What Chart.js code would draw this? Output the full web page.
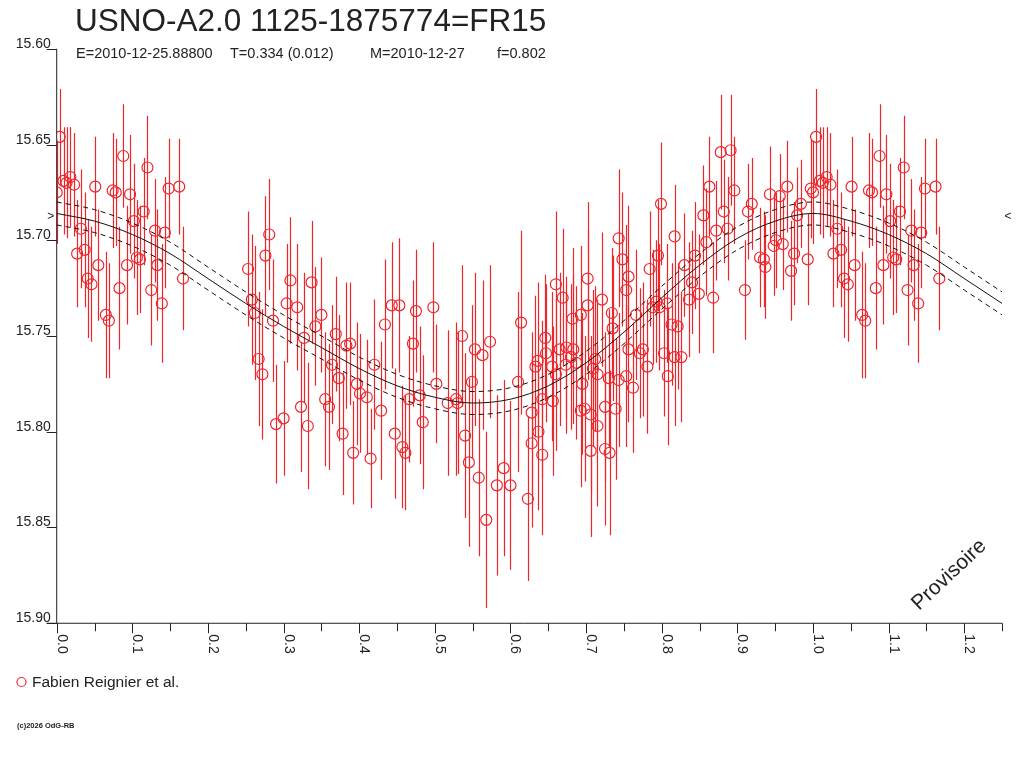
<!DOCTYPE html>
<html>
<head>
<meta charset="utf-8">
<script src="https://cdn.jsdelivr.net/npm/chart.js@4.4.1/dist/chart.umd.min.js"></script>
<style>
  html, body { margin: 0; padding: 0; background: #fff; }
  canvas { display: block; }
</style>
</head>
<body>
<canvas id="lc" width="1024" height="768"></canvas>
<script>
// Light curve of USNO-A2.0 1125-1875774 (phase folded)

const titleText = "USNO-A2.0 1125-1875774=FR15";
const subParts = ["E=2010-12-25.88800", "T=0.334 (0.012)", "M=2010-12-27", "f=0.802"];
const seriesName = "Fabien Reignier et al.";

// measured points: phase, magnitude, error (half bar)
const phases = [
  0.004, 0.000, 0.009, 0.018, 0.013, 0.023, 0.051, 0.074, 0.078, 0.088, 0.120, 0.097, 0.148, 0.162, 0.115, 0.102, 0.130,
  0.143, 0.032, 0.037, 0.027, 0.055, 0.093, 0.106, 0.110, 0.133, 0.041, 0.046, 0.083, 0.125, 0.167, 0.139, 0.065, 0.069,
  0.281, 0.276, 0.253, 0.309, 0.337, 0.258, 0.304, 0.318, 0.350, 0.262, 0.286, 0.342, 0.327, 0.369, 0.383, 0.388, 0.267,
  0.272, 0.364, 0.373, 0.397, 0.420, 0.401, 0.410, 0.355, 0.360, 0.323, 0.290, 0.300, 0.332, 0.378, 0.392, 0.415, 0.429,
  0.434, 0.443, 0.453, 0.475, 0.498, 0.471, 0.502, 0.480, 0.466, 0.484, 0.447, 0.457, 0.461,
  0.536, 0.553, 0.563, 0.573, 0.614, 0.549, 0.610, 0.743, 0.748, 0.756, 0.753, 0.702, 0.660, 0.669, 0.721, 0.702, 0.682,
  0.693, 0.734, 0.735, 0.646, 0.647, 0.665, 0.674, 0.683, 0.680, 0.636, 0.633, 0.655, 0.673, 0.687, 0.712, 0.709, 0.695,
  0.715, 0.730, 0.743, 0.753, 0.756, 0.660,
  0.517, 0.528, 0.530, 0.642, 0.656, 0.628, 0.693, 0.698, 0.706, 0.725, 0.739, 0.715, 0.540, 0.637, 0.628, 0.642, 0.706,
  0.725, 0.731, 0.545, 0.591, 0.558, 0.582, 0.600, 0.623, 0.568,
  0.878, 0.891, 0.863, 0.896, 0.799, 0.882, 0.855, 0.919, 0.914, 0.943, 0.956, 0.966, 0.997, 0.984, 0.979, 0.817, 0.872,
  0.887, 0.859, 0.795, 0.830, 0.844, 0.784, 0.951, 0.948, 0.960, 0.975, 0.930, 0.935, 0.937, 0.993, 0.971,
  0.840, 0.849, 0.836, 0.868, 0.910, 0.793, 0.807, 0.797, 0.788, 0.766, 0.813, 0.821, 0.775, 0.771, 0.803, 0.817, 0.826,
  0.781, 0.808, 0.762
];
const mags = [
  15.646, 15.675, 15.669, 15.667, 15.670, 15.671, 15.672, 15.674, 15.675, 15.656, 15.662, 15.676, 15.673, 15.672, 15.685, 15.690, 15.695,
  15.696, 15.694, 15.705, 15.707, 15.713, 15.713, 15.709, 15.710, 15.713, 15.720, 15.723, 15.725, 15.726, 15.720, 15.733, 15.739, 15.742,
  15.697, 15.708, 15.715, 15.721, 15.722, 15.731, 15.733, 15.735, 15.739, 15.738, 15.742, 15.745, 15.751, 15.749, 15.755, 15.754, 15.762,
  15.770, 15.765, 15.772, 15.775, 15.765, 15.780, 15.782, 15.783, 15.787, 15.787, 15.796, 15.793, 15.797, 15.801, 15.811, 15.814, 15.789,
  15.744, 15.734, 15.734, 15.737, 15.735, 15.754, 15.775, 15.781, 15.783, 15.795, 15.801, 15.808, 15.811,
  15.750, 15.757, 15.760, 15.753, 15.743, 15.774, 15.774, 15.699, 15.710, 15.719, 15.726, 15.720, 15.723, 15.730, 15.731, 15.734, 15.741,
  15.739, 15.738, 15.746, 15.751, 15.759, 15.757, 15.756, 15.757, 15.761, 15.763, 15.766, 15.766, 15.765, 15.764, 15.762, 15.767, 15.775,
  15.770, 15.772, 15.773, 15.771, 15.757, 15.770,
  15.785, 15.783, 15.785, 15.783, 15.784, 15.790, 15.789, 15.788, 15.791, 15.787, 15.788, 15.797, 15.802, 15.800, 15.806, 15.812, 15.810,
  15.809, 15.811, 15.816, 15.819, 15.824, 15.828, 15.828, 15.835, 15.846,
  15.654, 15.653, 15.672, 15.674, 15.681, 15.685, 15.687, 15.681, 15.685, 15.676, 15.677, 15.672, 15.673, 15.681, 15.687, 15.698, 15.695,
  15.694, 15.701, 15.708, 15.713, 15.708, 15.715, 15.700, 15.703, 15.702, 15.707, 15.709, 15.710, 15.714, 15.710, 15.716,
  15.722, 15.728, 15.731, 15.730, 15.726, 15.732, 15.733, 15.735, 15.735, 15.739, 15.744, 15.745, 15.757, 15.759, 15.759, 15.761, 15.761,
  15.766, 15.771, 15.777
];
const errs = [
  0.025, 0.027, 0.028, 0.026, 0.029, 0.027, 0.026, 0.030, 0.028, 0.027, 0.027, 0.031, 0.026, 0.025, 0.028, 0.030, 0.027,
  0.029, 0.031, 0.030, 0.028, 0.029, 0.031, 0.030, 0.028, 0.029, 0.031, 0.030, 0.032, 0.029, 0.027, 0.031, 0.033, 0.030,
  0.029, 0.031, 0.030, 0.033, 0.032, 0.034, 0.031, 0.033, 0.030, 0.035, 0.032, 0.031, 0.034, 0.030, 0.033, 0.032, 0.035,
  0.034, 0.031, 0.033, 0.032, 0.034, 0.031, 0.030, 0.035, 0.033, 0.034, 0.031, 0.030, 0.033, 0.032, 0.027, 0.026, 0.036,
  0.034, 0.033, 0.035, 0.032, 0.034, 0.033, 0.031, 0.036, 0.033, 0.035, 0.034, 0.032, 0.030,
  0.037, 0.040, 0.039, 0.040, 0.048, 0.040, 0.047, 0.036, 0.035, 0.037, 0.034, 0.040, 0.038, 0.036, 0.035, 0.039, 0.037,
  0.036, 0.034, 0.038, 0.033, 0.036, 0.040, 0.037, 0.039, 0.038, 0.041, 0.037, 0.039, 0.036, 0.040, 0.038, 0.041, 0.037,
  0.039, 0.036, 0.035, 0.037, 0.038, 0.040,
  0.038, 0.040, 0.037, 0.041, 0.039, 0.042, 0.040, 0.038, 0.041, 0.039, 0.037, 0.042, 0.043, 0.041, 0.044, 0.042, 0.045,
  0.040, 0.043, 0.044, 0.046, 0.041, 0.047, 0.044, 0.043, 0.046,
  0.030, 0.029, 0.026, 0.028, 0.032, 0.027, 0.026, 0.024, 0.025, 0.025, 0.022, 0.024, 0.026, 0.023, 0.025, 0.027, 0.026,
  0.027, 0.028, 0.029, 0.027, 0.028, 0.030, 0.025, 0.026, 0.024, 0.027, 0.026, 0.025, 0.027, 0.024, 0.026,
  0.027, 0.031, 0.030, 0.029, 0.026, 0.032, 0.031, 0.033, 0.030, 0.034, 0.032, 0.033, 0.035, 0.034, 0.033, 0.036, 0.034,
  0.035, 0.036, 0.034
];

// fitted curve and its envelope
const curvePhase = [0.00, 0.05, 0.10, 0.15, 0.20, 0.25, 0.30, 0.35, 0.40, 0.45, 0.50, 0.55, 0.60,
  0.65, 0.70, 0.75, 0.80, 0.85, 0.90, 0.95, 1.00, 1.05, 1.10, 1.15, 1.20, 1.25];
const curveMid = [15.686, 15.690, 15.697, 15.707, 15.720, 15.733, 15.745, 15.756, 15.767, 15.776, 15.782, 15.785, 15.783,
  15.776, 15.764, 15.748, 15.730, 15.713, 15.699, 15.690, 15.686, 15.690, 15.697, 15.707, 15.720, 15.733];
const curveUpper = [15.680, 15.684, 15.691, 15.701, 15.714, 15.727, 15.739, 15.750, 15.761, 15.770, 15.776, 15.779, 15.777,
  15.770, 15.758, 15.742, 15.724, 15.707, 15.693, 15.684, 15.680, 15.684, 15.691, 15.701, 15.714, 15.727];
const curveLower = [15.692, 15.696, 15.703, 15.713, 15.726, 15.739, 15.751, 15.762, 15.773, 15.782, 15.788, 15.791, 15.789,
  15.782, 15.770, 15.754, 15.736, 15.719, 15.705, 15.696, 15.692, 15.696, 15.703, 15.713, 15.726, 15.739];
const maxMark = 15.6875;

const yTicks = [15.60, 15.65, 15.70, 15.75, 15.80, 15.85, 15.90];
const xMajor = [0.0, 0.1, 0.2, 0.3, 0.4, 0.5, 0.6, 0.7, 0.8, 0.9, 1.0, 1.1, 1.2];
const xMinor = [0.05, 0.15, 0.25, 0.35, 0.45, 0.55, 0.65, 0.75, 0.85, 0.95, 1.05, 1.15, 1.25];

const RED = "rgb(238,38,44)";
const INK = "#222";
const FONT = "'Liberation Sans', Arial, sans-serif";

// the folded plot repeats the first part of the cycle after phase 1
const shown = [];
phases.forEach((p, i) => {
  shown.push({ x: p, y: mags[i], e: errs[i] });
  if (p < 0.25) shown.push({ x: p + 1, y: mags[i], e: errs[i] });
});

function linePts(ys) {
  return curvePhase.map((p, i) => ({ x: p, y: ys[i] }));
}

const errorBars = {
  id: "errorBars",
  beforeDatasetsDraw(chart) {
    const { ctx, chartArea, scales } = chart;
    ctx.save();
    ctx.beginPath();
    ctx.rect(chartArea.left, chartArea.top, chartArea.right - chartArea.left, chartArea.bottom - chartArea.top);
    ctx.clip();
    ctx.strokeStyle = RED;
    ctx.lineWidth = 1.2;
    shown.forEach((d) => {
      const px = Math.round(scales.x.getPixelForValue(d.x)) + 0.5;
      ctx.beginPath();
      ctx.moveTo(px, scales.y.getPixelForValue(d.y - d.e));
      ctx.lineTo(px, scales.y.getPixelForValue(d.y + d.e));
      ctx.stroke();
    });
    ctx.restore();
  },
};

const decorations = {
  id: "decorations",
  afterDraw(chart) {
    const { ctx, chartArea, scales } = chart;
    const xs = scales.x, ys = scales.y;
    const left = chartArea.left, bottom = chartArea.bottom;
    ctx.save();
    ctx.strokeStyle = INK;
    ctx.fillStyle = INK;
    ctx.lineWidth = 1;

    // axes
    ctx.beginPath();
    ctx.moveTo(left, ys.getPixelForValue(15.60));
    ctx.lineTo(left, bottom);
    ctx.moveTo(left - 10, bottom);
    ctx.lineTo(chartArea.right, bottom);
    ctx.stroke();

    // y ticks and labels
    ctx.font = "14px " + FONT;
    ctx.textAlign = "right";
    ctx.textBaseline = "alphabetic";
    yTicks.forEach((v) => {
      const py = Math.round(ys.getPixelForValue(v)) + 0.5;
      ctx.beginPath();
      ctx.moveTo(left - 10, py);
      ctx.lineTo(left, py);
      ctx.stroke();
      ctx.fillText(v.toFixed(2), left - 6, py - 2);
    });

    // x ticks
    xMajor.forEach((v) => {
      const px = Math.round(xs.getPixelForValue(v)) + 0.5;
      ctx.beginPath();
      ctx.moveTo(px, bottom);
      ctx.lineTo(px, bottom + 10);
      ctx.stroke();
    });
    xMinor.forEach((v) => {
      const px = Math.round(xs.getPixelForValue(v)) + 0.5;
      ctx.beginPath();
      ctx.moveTo(px, bottom);
      ctx.lineTo(px, bottom + 8);
      ctx.stroke();
    });
    // rotated x labels, reading downwards
    ctx.textAlign = "left";
    xMajor.forEach((v) => {
      const px = xs.getPixelForValue(v);
      ctx.save();
      ctx.translate(px + 1, bottom + 11);
      ctx.rotate(Math.PI / 2);
      ctx.fillText(v.toFixed(1), 0, 0);
      ctx.restore();
    });

    // max level markers
    const my = ys.getPixelForValue(maxMark);
    ctx.font = "12px " + FONT;
    ctx.textBaseline = "middle";
    ctx.textAlign = "center";
    ctx.fillText(">", left - 6, my);
    ctx.fillText("<", chartArea.right + 6, my);

    // title
    ctx.textBaseline = "alphabetic";
    ctx.textAlign = "left";
    ctx.font = "31.5px " + FONT;
    ctx.fillText(titleText, 75, 31);
    ctx.font = "14.5px " + FONT;
    const subX = [76, 230, 370, 497];
    subParts.forEach((s, i) => ctx.fillText(s, subX[i], 58));

    // legend
    ctx.strokeStyle = RED;
    ctx.lineWidth = 1.2;
    ctx.beginPath();
    ctx.arc(21.5, 682, 4.5, 0, Math.PI * 2);
    ctx.stroke();
    ctx.font = "15.5px " + FONT;
    ctx.fillText(seriesName, 32, 687);

    ctx.font = "bold 7.5px " + FONT;
    ctx.fillText("(c)2026 OdG-RB", 17, 728);

    // watermark
    ctx.save();
    ctx.translate(919, 611);
    ctx.rotate(-43 * Math.PI / 180);
    ctx.font = "21px " + FONT;
    ctx.fillStyle = INK;
    ctx.fillText("Provisoire", 0, 0);
    ctx.restore();

    ctx.restore();
  },
};

new Chart(document.getElementById("lc"), {
  type: "scatter",
  data: {
    datasets: [
      {
        type: "line",
        data: linePts(curveMid),
        borderColor: "#111",
        borderWidth: 1,
        pointRadius: 0,
        cubicInterpolationMode: "monotone",
        order: 0,
      },
      {
        type: "line",
        data: linePts(curveUpper),
        borderColor: "#111",
        borderWidth: 1,
        borderDash: [5, 4],
        pointRadius: 0,
        cubicInterpolationMode: "monotone",
        order: 0,
      },
      {
        type: "line",
        data: linePts(curveLower),
        borderColor: "#111",
        borderWidth: 1,
        borderDash: [5, 4],
        pointRadius: 0,
        cubicInterpolationMode: "monotone",
        order: 0,
      },
      {
        label: seriesName,
        data: shown,
        pointStyle: "circle",
        pointRadius: 5.5,
        borderColor: RED,
        borderWidth: 1.2,
        backgroundColor: "rgba(0,0,0,0)",
        order: 1,
      },
    ],
  },
  options: {
    responsive: false,
    animation: false,
    devicePixelRatio: 1,
    layout: { padding: { left: 56.7, right: 21.9, top: 48.75, bottom: 144.75 } },
    plugins: { legend: { display: false }, tooltip: { enabled: false } },
    scales: {
      x: { type: "linear", min: 0, max: 1.25, display: false },
      y: { type: "linear", min: 15.60, max: 15.90, reverse: true, display: false },
    },
  },
  plugins: [errorBars, decorations],
});
</script>
</body>
</html>
